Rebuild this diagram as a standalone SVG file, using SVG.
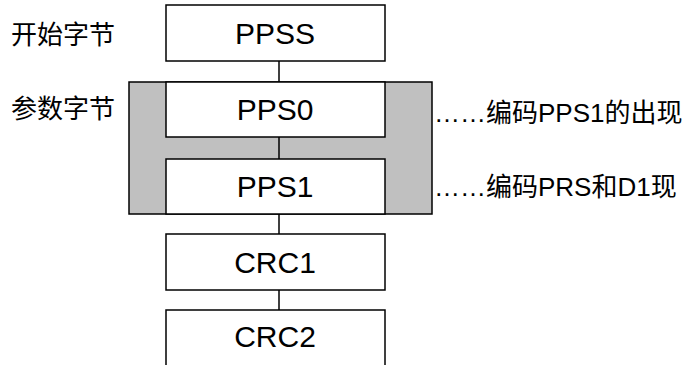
<svg xmlns="http://www.w3.org/2000/svg" width="689" height="365" viewBox="0 0 689 365">
<style>
.box{fill:#fff;stroke:#000;stroke-width:1.5}
.grp{fill:#c0c0c0;stroke:#000;stroke-width:1.5}
.lbl{font-family:"Liberation Sans","Noto Sans CJK SC",sans-serif;font-size:30px;fill:#000;text-anchor:middle}
.side{font-family:"Liberation Sans","Noto Sans CJK SC",sans-serif;font-size:26px;fill:#000}
.con{stroke:#000;stroke-width:1.5;fill:none}
</style>
<rect width="689" height="365" fill="#fff"/>
<g id="param-group">
<rect class="grp" x="129" y="82" width="303" height="132"/>
</g>
<g id="connectors">
<line class="con" x1="279" y1="61" x2="279" y2="82"/>
<line class="con" x1="279" y1="137" x2="279" y2="159"/>
<line class="con" x1="279" y1="214" x2="279" y2="234"/>
<line class="con" x1="279" y1="290" x2="279" y2="310"/>
</g>
<g id="PPSS">
<rect class="box" x="166" y="5" width="219" height="56"/>
<text class="lbl" x="275" y="44">PPSS</text>
</g>
<g id="PPS0">
<rect class="box" x="166" y="82" width="219" height="55"/>
<text class="lbl" x="275" y="120">PPS0</text>
</g>
<g id="PPS1">
<rect class="box" x="166" y="159" width="219" height="55"/>
<text class="lbl" x="275" y="197">PPS1</text>
</g>
<g id="CRC1">
<rect class="box" x="166" y="234" width="219" height="56"/>
<text class="lbl" x="275" y="273">CRC1</text>
</g>
<g id="CRC2">
<rect class="box" x="166" y="310" width="219" height="70"/>
<text class="lbl" x="275" y="347">CRC2</text>
</g>
<g id="labels">
<text class="side" x="11" y="44">开始字节</text>
<text class="side" x="11" y="118">参数字节</text>
<text class="side" x="434" y="122">……编码PPS1的出现</text>
<text class="side" x="434" y="196">……编码PRS和D1现</text>
</g>
</svg>
